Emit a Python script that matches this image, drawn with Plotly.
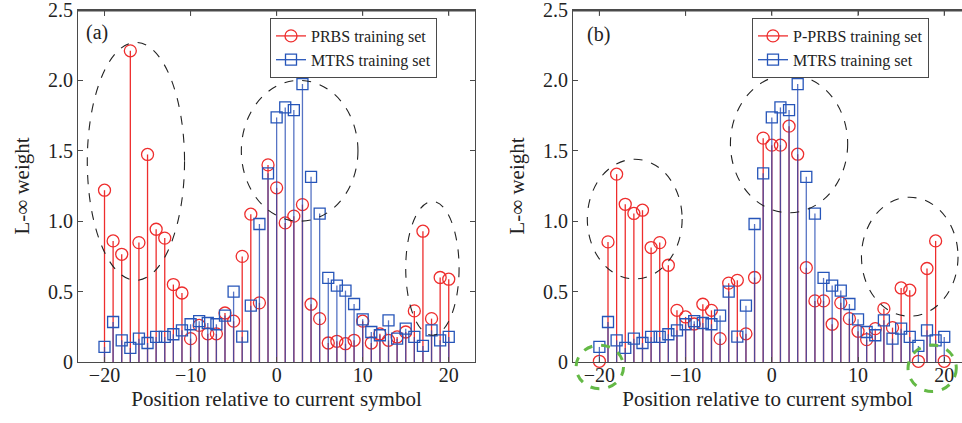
import plotly.graph_objects as go

positions = list(range(-20, 21))

prbs_a = [1.22, 0.86, 0.765, 2.21, 0.848, 1.474, 0.943, 0.88, 0.55, 0.49,
          0.166, 0.26, 0.20, 0.20, 0.348, 0.29, 0.75, 1.05, 0.42, 1.40,
          1.237, 0.988, 1.036, 1.118, 0.41, 0.308, 0.135, 0.147, 0.13, 0.154,
          0.29, 0.135, 0.20, 0.154, 0.178, 0.213, 0.363, 0.929, 0.308, 0.60, 0.588]

mtrs = [0.107, 0.284, 0.154, 0.10, 0.166, 0.135, 0.178, 0.178, 0.197, 0.225,
        0.268, 0.29, 0.277, 0.268, 0.33, 0.50, 0.18, 0.40, 0.98, 1.34,
        1.737, 1.808, 1.789, 1.974, 1.315, 1.054, 0.597, 0.543, 0.507, 0.412,
        0.303, 0.213, 0.19, 0.296, 0.166, 0.237, 0.178, 0.114, 0.225, 0.154, 0.178]

pprbs_b = [0.005, 0.853, 1.334, 1.12, 1.055, 1.078, 0.813, 0.848, 0.687, 0.367,
           0.32, 0.27, 0.41, 0.367, 0.166, 0.56, 0.58, 0.20, 0.60, 1.59,
           1.54, 1.54, 1.675, 1.476, 0.67, 0.434, 0.434, 0.268, 0.42, 0.308,
           0.218, 0.159, 0.237, 0.379, 0.244, 0.526, 0.51, 0.005, 0.664, 0.86, 0.005]

x_ticks = [-20, -10, 0, 10, 20]
y_ticks = [0, 0.5, 1.0, 1.5, 2.0, 2.5]
y_ticktext = ["0", "0.5", "1.0", "1.5", "2.0", "2.5"]

RED = "rgb(238,45,45)"
BLUE = "rgb(38,85,185)"
BLUE_STEM = "rgba(38,75,180,0.78)"
FONT = "Liberation Serif, Times New Roman, serif"
TXT = "#222222"
AX = "#4a4a4a"

W, H = 962, 423
ML, MR, MT, MB = 0, 0, 10, 61
DOM_A = [78 / W, 475 / W]
DOM_B = [573 / W, 1.0]
xr_a = [-23.08, 23.05]
xr_b = [-23.06, 22.06]
yr = [0, 2.5]


def stems(xs, ys):
    sx, sy = [], []
    for x, y in zip(xs, ys):
        sx += [x, x, None]
        sy += [0, y, None]
    return sx, sy


fig = go.Figure()


def add_panel(red_vals, red_name, xa, ya, legend):
    sx, sy = stems(positions, red_vals)
    fig.add_trace(go.Scatter(x=sx, y=sy, mode="lines", line=dict(color=RED, width=1.3),
                             xaxis=xa, yaxis=ya, showlegend=False, hoverinfo="skip"))
    fig.add_trace(go.Scatter(x=positions, y=red_vals, mode="markers", cliponaxis=False,
                             marker=dict(symbol="circle-open", size=12, color=RED, line=dict(width=1.3)),
                             xaxis=xa, yaxis=ya, showlegend=False))
    sx, sy = stems(positions, mtrs)
    fig.add_trace(go.Scatter(x=sx, y=sy, mode="lines", line=dict(color=BLUE_STEM, width=1.3),
                             xaxis=xa, yaxis=ya, showlegend=False, hoverinfo="skip"))
    fig.add_trace(go.Scatter(x=positions, y=mtrs, mode="markers", cliponaxis=False,
                             marker=dict(symbol="square-open", size=11, color=BLUE, line=dict(width=1.3)),
                             xaxis=xa, yaxis=ya, showlegend=False))
    fig.add_trace(go.Scatter(x=[None], y=[None], mode="lines+markers", name=red_name,
                             line=dict(color=RED, width=1.3),
                             marker=dict(symbol="circle-open", size=12, color=RED, line=dict(width=1.3)),
                             xaxis=xa, yaxis=ya, legend=legend))
    fig.add_trace(go.Scatter(x=[None], y=[None], mode="lines+markers", name="MTRS training set",
                             line=dict(color=BLUE, width=1.3),
                             marker=dict(symbol="square-open", size=11, color=BLUE, line=dict(width=1.3)),
                             xaxis=xa, yaxis=ya, legend=legend))


add_panel(prbs_a, "PRBS training set", "x", "y", "legend")
add_panel(pprbs_b, "P-PRBS training set", "x2", "y2", "legend2")

axis_common = dict(showgrid=False, zeroline=False, showline=True, linecolor=AX, linewidth=1,
                   ticks="inside", ticklen=5, tickcolor=AX, tickwidth=1, automargin=False,
                   ticklabeloverflow="allow",
                   tickfont=dict(family=FONT, size=20, color=TXT))

ytitle = dict(text="L-∞ weight", font=dict(size=21), standoff=12)
xtitle = dict(text="Position relative to current symbol", font=dict(size=21), standoff=6)
leg_y = 1 - (18 - MT) / (H - MT - MB)

fig.update_layout(
    width=W, height=H,
    margin=dict(l=ML, r=MR, t=MT, b=MB),
    paper_bgcolor="white", plot_bgcolor="white",
    font=dict(family=FONT, color=TXT),
    xaxis=dict(domain=DOM_A, range=xr_a, tickvals=x_ticks, mirror="ticks", title=xtitle,
               anchor="y", ticklabelstandoff=-5, **axis_common),
    yaxis=dict(domain=[0, 1], range=yr, tickvals=y_ticks, ticktext=y_ticktext, mirror="ticks",
               title=ytitle, anchor="x", **axis_common),
    xaxis2=dict(domain=DOM_B, range=xr_b, tickvals=x_ticks, mirror="ticks", title=xtitle,
                anchor="y2", ticklabelstandoff=-5, **axis_common),
    yaxis2=dict(domain=[0, 1], range=yr, tickvals=y_ticks, ticktext=y_ticktext, mirror=False,
                title=ytitle, anchor="x2", **axis_common),
    legend=dict(x=270 / W, y=leg_y, xanchor="left", yanchor="top",
                bgcolor="white", bordercolor=AX, borderwidth=1,
                font=dict(family=FONT, size=16, color=TXT), itemwidth=30, tracegroupgap=0),
    legend2=dict(x=752 / W, y=leg_y, xanchor="left", yanchor="top",
                 bgcolor="white", bordercolor=AX, borderwidth=1,
                 font=dict(family=FONT, size=16, color=TXT), itemwidth=30, tracegroupgap=0),
)

# top frame: thin filled bars (pixel-sized) along the top of each panel, plus top ticks
for xa, ya in (("x", "y"), ("x2", "y2")):
    fig.add_shape(type="rect", xref=f"{xa} domain", yref="paper", ysizemode="pixel", yanchor=1,
                  x0=0, x1=1, y0=-1.5, y1=0.5, line=dict(width=0), fillcolor=AX, layer="above")
    for t in x_ticks:
        fig.add_shape(type="rect", xref=xa, yref="paper", ysizemode="pixel", yanchor=1,
                      xsizemode="pixel", xanchor=t,
                      x0=-0.5, x1=0.5, y0=-6, y1=0, line=dict(width=0), fillcolor=AX, layer="above")

fig.add_annotation(text="(a)", xref="x domain", yref="y domain", x=0.015, y=0.935,
                   xanchor="left", yanchor="middle", showarrow=False,
                   font=dict(family=FONT, size=20, color=TXT))
fig.add_annotation(text="(b)", xref="x2 domain", yref="y2 domain", x=0.03, y=0.93,
                   xanchor="left", yanchor="middle", showarrow=False,
                   font=dict(family=FONT, size=20, color=TXT))

ellipses_a = [(-22.0, 0.58, -10.7, 2.27), (-4.1, 1.0, 9.45, 2.0), (15.0, 0.19, 21.2, 1.14)]
ellipses_b = [(-21.4, 0.59, -10.4, 1.44), (-4.8, 1.06, 8.8, 2.04), (10.4, 0.325, 21.6, 1.17)]
for (x0, y0, x1, y1) in ellipses_a:
    fig.add_shape(type="circle", xref="x", yref="y", x0=x0, y0=y0, x1=x1, y1=y1,
                  line=dict(color="#222222", width=1.1, dash="dash"), layer="above")
for (x0, y0, x1, y1) in ellipses_b:
    fig.add_shape(type="circle", xref="x2", yref="y2", x0=x0, y0=y0, x1=x1, y1=y1,
                  line=dict(color="#222222", width=1.1, dash="dash"), layer="above")


def px_b(v):
    f = (v - xr_b[0]) / (xr_b[1] - xr_b[0])
    return DOM_B[0] + f * (DOM_B[1] - DOM_B[0])


def py(v):
    return (v - yr[0]) / (yr[1] - yr[0])


green = [(-22.7, -0.19, -17.2, 0.12), (15.8, -0.21, 21.4, 0.12)]
for (x0, y0, x1, y1) in green:
    fig.add_shape(type="circle", xref="paper", yref="paper",
                  x0=px_b(x0), y0=py(y0), x1=px_b(x1), y1=py(y1),
                  line=dict(color="rgb(100,185,70)", width=3, dash="dash"), layer="above")

fig.write_html("out.html", config={"displayModeBar": False},
               post_script="document.body.style.margin='0';document.body.style.padding='0';")
